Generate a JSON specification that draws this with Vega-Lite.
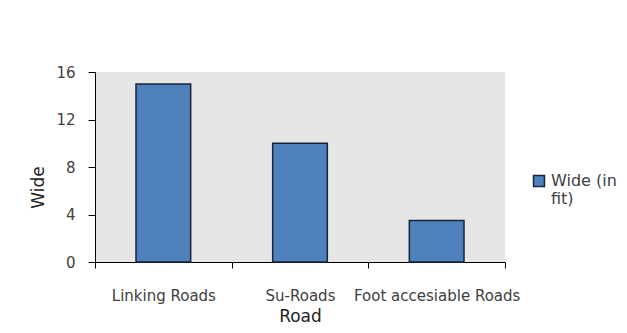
{
  "$schema": "https://vega.github.io/schema/vega-lite/v6.json",
  "autosize": "none",
  "width": 410,
  "height": 190,
  "padding": {"left": 95, "top": 72, "right": 122, "bottom": 71},
  "background": "white",
  "config": {
    "view": {"fill": "#e6e6e6", "stroke": null},
    "font": "DejaVu Sans"
  },
  "data": {
    "values": [
      {"Road": "Linking Roads", "Wide": 15, "Series": "Wide (in fit)"},
      {"Road": "Su-Roads", "Wide": 10, "Series": "Wide (in fit)"},
      {"Road": "Foot accesiable Roads", "Wide": 3.5, "Series": "Wide (in fit)"}
    ]
  },
  "mark": {"type": "bar", "stroke": "#1a2438", "strokeWidth": 1.5, "width": {"band": 0.4}},
  "encoding": {
    "x": {
      "field": "Road",
      "type": "nominal",
      "sort": null,
      "scale": {"paddingInner": 0, "paddingOuter": 0},
      "axis": {
        "title": "Road",
        "labelAngle": 0,
        "labelOverlap": false,
        "labelLimit": 0,
        "tickBand": "extent",
        "tickSize": 6,
        "tickColor": "#000",
        "domainColor": "#000",
        "labelPadding": 20,
        "labelFontSize": 15,
        "labelColor": "#404040",
        "titleFontSize": 17,
        "titleFontWeight": "normal",
        "titleColor": "#222",
        "titlePadding": 5
      }
    },
    "y": {
      "field": "Wide",
      "type": "quantitative",
      "scale": {"domain": [0, 16]},
      "axis": {
        "title": "Wide",
        "values": [0, 4, 8, 12, 16],
        "grid": false,
        "tickSize": 7,
        "tickColor": "#000",
        "domainColor": "#000",
        "labelPadding": 13,
        "labelFontSize": 15,
        "labelColor": "#404040",
        "titleFontSize": 17,
        "titleFontWeight": "normal",
        "titleColor": "#222",
        "titleX": -57,
        "titleY": 115,
        "titleAlign": "center",
        "titleBaseline": "middle",
        "titleAngle": -90
      }
    },
    "fill": {
      "field": "Series",
      "type": "nominal",
      "scale": {"range": ["#4f81bd"]},
      "legend": {
        "title": null,
        "orient": "none",
        "legendX": 436,
        "legendY": 101,
        "symbolType": "square",
        "symbolSize": 120,
        "symbolStrokeColor": "#1a2438",
        "symbolStrokeWidth": 1.5,
        "labelFontSize": 16,
        "labelColor": "#404040",
        "labelExpr": "['Wide (in', 'fit)']",
        "labelLimit": 0
      }
    }
  }
}
